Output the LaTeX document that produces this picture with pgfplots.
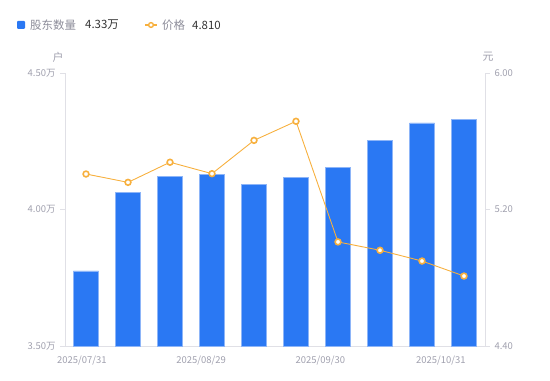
\documentclass[border=0pt]{standalone}
\usepackage{pgfplots}
\pgfplotsset{compat=1.18}
\usepackage{fontspec}
\setmainfont{Noto Sans CJK SC}
\definecolor{barblue}{HTML}{2A78F3}
\definecolor{baredge}{HTML}{8DB5F8}
\definecolor{lineorange}{HTML}{F7B03E}
\definecolor{axisgray}{HTML}{E0E0E6}
\definecolor{labelgray}{HTML}{A0A0AE}
\definecolor{legendgray}{HTML}{8C8C99}
\definecolor{valdark}{HTML}{333333}
\begin{document}
\begin{tikzpicture}
\path[use as bounding box] (0bp,0bp) rectangle (550bp,381bp);
\pgfplotsset{
  common/.style={
    at={(65bp,35bp)}, anchor=south west,
    width=420bp, height=273bp, scale only axis,
    xmin=-0.5, xmax=9.5,
    axis line style={axisgray, line width=0.8pt},
    tick style={axisgray, line width=0.8pt},
    tick align=outside,
    major tick length=5bp,
    tick label style={font=\fontsize{9.5}{11}\selectfont, text=labelgray},
    /pgf/number format/assume math mode=true,
  }
}
\begin{axis}[common,
  ymin=3.5, ymax=4.5,
  axis x line*=bottom, axis y line*=left,
  ytick={3.5,4,4.5}, yticklabels={3.50万,4.00万,4.50万},
  yticklabel style={xshift=-1bp},
  xtick={-0.1,2.74,5.58,8.45},
  xticklabels={2025/07/31,2025/08/29,2025/09/30,2025/10/31},
  x tick style={draw=none},
  xticklabel style={yshift=-1bp},
  clip=false,
]
\addplot[ybar, bar width=25bp, fill=barblue, draw=baredge, line width=0.6pt]
  coordinates {(0,3.775) (1,4.064) (2,4.120) (3,4.128) (4,4.093) (5,4.119) (6,4.153) (7,4.252) (8,4.317) (9,4.330)};
\node[font=\fontsize{11}{12}\selectfont, text=labelgray] at ([xshift=-7bp,yshift=16bp]rel axis cs:0,1) {户};
\end{axis}
\begin{axis}[common,
  ymin=4.4, ymax=6.0,
  axis x line=none, axis y line*=right,
  ytick={4.4,5.2,6.0}, yticklabels={4.40,5.20,6.00},
  yticklabel style={xshift=1bp},
  clip=false,
]
\addplot[lineorange, line width=0.9pt, mark=*, mark size=2.9pt,
  mark options={fill=white, draw=lineorange, line width=1.6pt}]
  coordinates {(0,5.408) (1,5.359) (2,5.477) (3,5.410) (4,5.605) (5,5.717) (6,5.010) (7,4.961) (8,4.898) (9,4.810)};
\node[font=\fontsize{11}{12}\selectfont, text=labelgray] at ([xshift=3bp,yshift=16bp]rel axis cs:1,1) {元};
\end{axis}
% legend
\fill[barblue, rounded corners=1bp] (17bp,352bp) rectangle (25bp,360bp);
\node[anchor=west, inner sep=0, font=\fontsize{11.5}{12}\selectfont, text=legendgray] at (30bp,356bp) {股东数量};
\node[anchor=west, inner sep=0, font=\fontsize{11.5}{12}\selectfont, text=valdark] at (85bp,356bp) {4.33万};
\draw[lineorange, line width=1.2pt] (145bp,356bp) -- (157bp,356bp);
\draw[lineorange, fill=white, line width=1.4pt] (151bp,356bp) circle (2.4bp);
\node[anchor=west, inner sep=0, font=\fontsize{11.5}{12}\selectfont, text=legendgray] at (162bp,356bp) {价格};
\node[anchor=west, inner sep=0, font=\fontsize{11.5}{12}\selectfont, text=valdark] at (192bp,356bp) {4.810};
\end{tikzpicture}
\end{document}
